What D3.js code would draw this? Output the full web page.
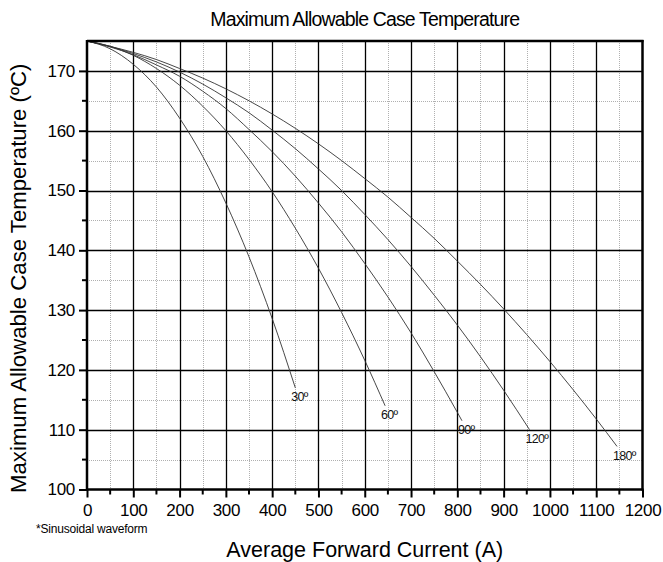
<!DOCTYPE html>
<html>
<head>
<meta charset="utf-8">
<script src="https://cdn.jsdelivr.net/npm/d3@7"></script>
<style>
  html, body { margin: 0; padding: 0; background: #fff; }
  svg { display: block; font-family: "Liberation Sans", Arial, sans-serif; }
</style>
</head>
<body>
<svg id="chart" width="663" height="562"></svg>
<script>
// ---- data ----
const current = [0, 50, 100, 150, 200, 250, 300, 350, 400, 450, 500, 550, 600, 650, 700, 750, 800, 850, 900, 950, 1000, 1050, 1100];
const temp30  = [175, 173.7, 171.1, 167.3, 162.1, 155.7, 147.9, 138.9, 128.6, 117.0];
const temp60  = [175, 174.1, 172.6, 170.4, 167.6, 164.1, 160.0, 155.2, 149.8, 143.7, 137.0, 129.6, 121.6];
const temp90  = [175, 174.0, 172.7, 171.0, 169.1, 166.6, 163.7, 160.2, 156.5, 152.4, 147.9, 143.1, 137.8, 132.2, 126.2, 119.7, 112.9];
const temp120 = [175, 174.1, 172.9, 171.5, 169.8, 167.8, 165.5, 163.0, 160.1, 157.0, 153.6, 150.0, 146.0, 141.8, 137.3, 132.5, 127.5, 122.2, 116.6];
const temp180 = [175, 174.1, 173.1, 171.9, 170.4, 168.8, 167.0, 165.0, 162.8, 160.4, 157.8, 155.0, 152.0, 148.9, 145.5, 142.0, 138.2, 134.3, 130.2, 125.9, 121.4, 116.7, 111.8];
// end points of each curve
const endCurrent = [450, 644, 810, 956, 1145];
const endTemp    = [117.0, 114.0, 111.5, 110.0, 107.2];
const curveNames = ["30º", "60º", "90º", "120º", "180º"];

const xTicks = [0, 100, 200, 300, 400, 500, 600, 700, 800, 900, 1000, 1100, 1200];
const yTicks = [100, 110, 120, 130, 140, 150, 160, 170];
const xMinor = [50, 150, 250, 350, 450, 550, 650, 750, 850, 950, 1050, 1150];
const yMinor = [105, 115, 125, 135, 145, 155, 165];

const title = "Maximum Allowable Case Temperature";
const xTitle = "Average Forward Current (A)";
const yTitle = "Maximum Allowable Case Temperature (ºC)";
const note = "*Sinusoidal waveform";

// ---- layout ----
const L = 87, R = 642.5, T = 41, B = 489.5;
const svg = d3.select("#chart");
svg.append("rect").attr("width", 663).attr("height", 562).attr("fill", "#fff");

const x = d3.scaleLinear().domain([0, 1200]).range([L, R]);
const y = d3.scaleLinear().domain([100, 175]).range([B, T]);

// minor dotted grid
const g = svg.append("g");
g.selectAll(".vmin").data(xMinor).join("line")
  .attr("x1", d => Math.round(x(d)) + 0.5).attr("x2", d => Math.round(x(d)) + 0.5)
  .attr("y1", T).attr("y2", B)
  .attr("stroke", "#b0b0b0").attr("stroke-width", 1).attr("stroke-dasharray", "1,1");
g.selectAll(".hmin").data(yMinor).join("line")
  .attr("y1", d => Math.round(y(d)) + 0.5).attr("y2", d => Math.round(y(d)) + 0.5)
  .attr("x1", L).attr("x2", R)
  .attr("stroke", "#b0b0b0").attr("stroke-width", 1).attr("stroke-dasharray", "1,1");

// major solid grid
g.selectAll(".vmaj").data(xTicks.slice(1, -1)).join("line")
  .attr("x1", d => Math.round(x(d)) + 0.5).attr("x2", d => Math.round(x(d)) + 0.5)
  .attr("y1", T).attr("y2", B)
  .attr("stroke", "#000").attr("stroke-width", 1.3);
g.selectAll(".hmaj").data(yTicks.slice(1)).join("line")
  .attr("y1", d => Math.round(y(d)) + 0.5).attr("y2", d => Math.round(y(d)) + 0.5)
  .attr("x1", L).attr("x2", R)
  .attr("stroke", "#000").attr("stroke-width", 1.3);

// curves
const series = [temp30, temp60, temp90, temp120, temp180];
const line = d3.line().x(d => x(d[0])).y(d => y(d[1])).curve(d3.curveMonotoneX);
series.forEach((s, i) => {
  const pts = s.map((t, j) => [current[j], t]);
  pts.push([endCurrent[i], endTemp[i]]);
  svg.append("path").datum(pts)
    .attr("d", line).attr("fill", "none")
    .attr("stroke", "#333").attr("stroke-width", 0.9);
  svg.append("text")
    .attr("x", x(endCurrent[i]) - 4)
    .attr("y", y(endTemp[i]) + 13.5)
    .attr("font-size", 12.5).attr("letter-spacing", -0.7)
    .attr("fill", "#111")
    .text(curveNames[i]);
});

// axes
const xAxis = d3.axisBottom(x).tickValues(xTicks).tickSize(8).tickPadding(6).tickFormat(d3.format("d"));
const yAxis = d3.axisLeft(y).tickValues(yTicks).tickSize(8).tickPadding(4).tickFormat(d3.format("d"));
const gx = svg.append("g").attr("transform", `translate(0,${B})`).call(xAxis);
const gy = svg.append("g").attr("transform", `translate(${L},0)`).call(yAxis);
gx.append("g").selectAll("line").data(xMinor).join("line")
  .attr("x1", d => x(d)).attr("x2", d => x(d)).attr("y1", 0).attr("y2", 5).attr("stroke", "#000").attr("stroke-width", 2);
gy.append("g").selectAll("line").data(yMinor).join("line")
  .attr("y1", d => y(d)).attr("y2", d => y(d)).attr("x1", 0).attr("x2", -5).attr("stroke", "#000").attr("stroke-width", 2);
[gx, gy].forEach(a => {
  a.select(".domain").remove();
  a.selectAll(".tick line").attr("stroke", "#000").attr("stroke-width", 2);
  a.selectAll(".tick text").attr("font-size", 17).attr("fill", "#000")
    .attr("font-family", "'Liberation Sans', Arial, sans-serif").attr("letter-spacing", -0.3);
});

// frame
svg.append("line").attr("x1", L).attr("x2", R + 1).attr("y1", B).attr("y2", B).attr("stroke", "#000").attr("stroke-width", 2.5);
svg.append("line").attr("x1", L).attr("x2", L).attr("y1", T - 1).attr("y2", B + 1).attr("stroke", "#000").attr("stroke-width", 2.5);
svg.append("line").attr("x1", L).attr("x2", R + 1).attr("y1", T).attr("y2", T).attr("stroke", "#000").attr("stroke-width", 2.5);
svg.append("line").attr("x1", R).attr("x2", R).attr("y1", T - 1).attr("y2", B + 1).attr("stroke", "#000").attr("stroke-width", 2.5);

// titles
svg.append("text").attr("x", (L + R) / 2).attr("y", 26).attr("text-anchor", "middle")
  .attr("font-size", 19.5).attr("letter-spacing", -0.85).text(title);
svg.append("text").attr("x", (L + R) / 2).attr("y", 557).attr("text-anchor", "middle")
  .attr("font-size", 21.5).text(xTitle);
svg.append("text").attr("transform", `translate(26,${(T + B) / 2 + 13}) rotate(-90)`).attr("text-anchor", "middle")
  .attr("font-size", 22.2).text(yTitle);
svg.append("text").attr("x", 36).attr("y", 533).attr("font-size", 12).attr("letter-spacing", -0.2).text(note);
</script>
</body>
</html>
